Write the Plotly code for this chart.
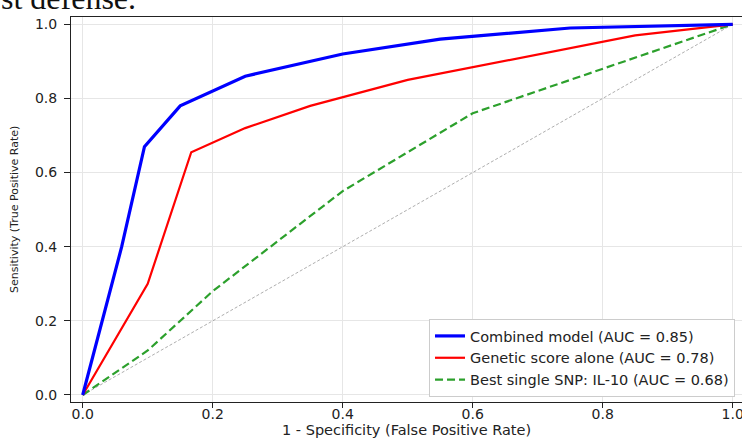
import plotly.graph_objects as go

# ---- data ----
combined_fpr = [0.0, 0.06, 0.095, 0.15, 0.25, 0.40, 0.55, 0.75, 1.0]
combined_tpr = [0.0, 0.40, 0.67, 0.78, 0.86, 0.92, 0.96, 0.99, 1.0]

genetic_fpr = [0.0, 0.10, 0.167, 0.25, 0.35, 0.50, 0.85, 1.0]
genetic_tpr = [0.0, 0.30, 0.655, 0.72, 0.78, 0.85, 0.97, 1.0]

snp_fpr = [0.0, 0.10, 0.20, 0.40, 0.60, 1.0]
snp_tpr = [0.0, 0.12, 0.28, 0.55, 0.76, 1.0]

chance = [0.0, 1.0]

names = ["Combined model (AUC = 0.85)",
         "Genetic score alone (AUC = 0.78)",
         "Best single SNP: IL-10 (AUC = 0.68)"]

tick_vals = [0.0, 0.2, 0.4, 0.6, 0.8, 1.0]
tick_text = ["0.0", "0.2", "0.4", "0.6", "0.8", "1.0"]

x_title = "1 - Specificity (False Positive Rate)"
y_title = "Sensitivity (True Positive Rate)"
header_text = "st defense."

FONT = "DejaVu Sans"

fig = go.Figure()
fig.add_trace(go.Scatter(x=chance, y=chance, mode="lines", showlegend=False,
                         line=dict(color="rgba(120,120,120,0.6)", width=1, dash="3px,2px"),
                         hoverinfo="skip"))
fig.add_trace(go.Scatter(x=snp_fpr, y=snp_tpr, mode="lines", name=names[2],
                         line=dict(color="#2ca02c", width=2.2, dash="8px,4px")))
fig.add_trace(go.Scatter(x=genetic_fpr, y=genetic_tpr, mode="lines", name=names[1],
                         line=dict(color="#ff0000", width=2.2)))
fig.add_trace(go.Scatter(x=combined_fpr, y=combined_tpr, mode="lines", name=names[0],
                         line=dict(color="#0000ff", width=3.2)))

axis_common = dict(
    tickvals=tick_vals, ticktext=tick_text, automargin=False,
    showgrid=True, gridcolor="#e6e6e6", gridwidth=1,
    zeroline=False, showline=True, linecolor="#222222", linewidth=1,
    ticks="outside", tickcolor="#222222", tickwidth=1,
    ticklabeloverflow="allow",
    tickfont=dict(family=FONT, size=14, color="#222222"),
)

fig.update_layout(
    width=742, height=438,
    margin=dict(l=71, r=0, t=17, b=36, autoexpand=False),
    paper_bgcolor="white", plot_bgcolor="white",
    showlegend=True,
    legend=dict(
        x=0.9896, y=0.013, xanchor="right", yanchor="bottom",
        traceorder="reversed",
        bgcolor="white", bordercolor="#cccccc", borderwidth=1,
        font=dict(family=FONT, size=14.5, color="#222222"),
        tracegroupgap=0, itemwidth=30,
    ),
    xaxis=dict(range=[-0.018, 1.0143], ticklen=5, ticklabelstandoff=-6,
               mirror=True, **axis_common),
    yaxis=dict(range=[-0.0189, 1.0197], ticklen=6, ticklabelstandoff=4, **axis_common),
    annotations=[
        dict(text=x_title, xref="paper", yref="paper", x=0.5, y=-0.0727,
             xanchor="center", yanchor="middle", showarrow=False,
             font=dict(family=FONT, size=14.5, color="#222222")),
        dict(text=y_title, xref="paper", yref="paper", x=-0.0842, y=0.5,
             xanchor="center", yanchor="middle", showarrow=False, textangle=-90,
             font=dict(family=FONT, size=11, color="#222222")),
        dict(text=header_text, xref="paper", yref="paper", x=-0.108, y=1.0506,
             xanchor="left", yanchor="middle", showarrow=False,
             font=dict(family="Liberation Serif", size=32, color="#111111")),
    ],
)

fig.write_html(
    "out.html",
    config={"displayModeBar": False},
    post_script="document.body.style.margin='0';document.body.style.overflow='hidden';",
)
